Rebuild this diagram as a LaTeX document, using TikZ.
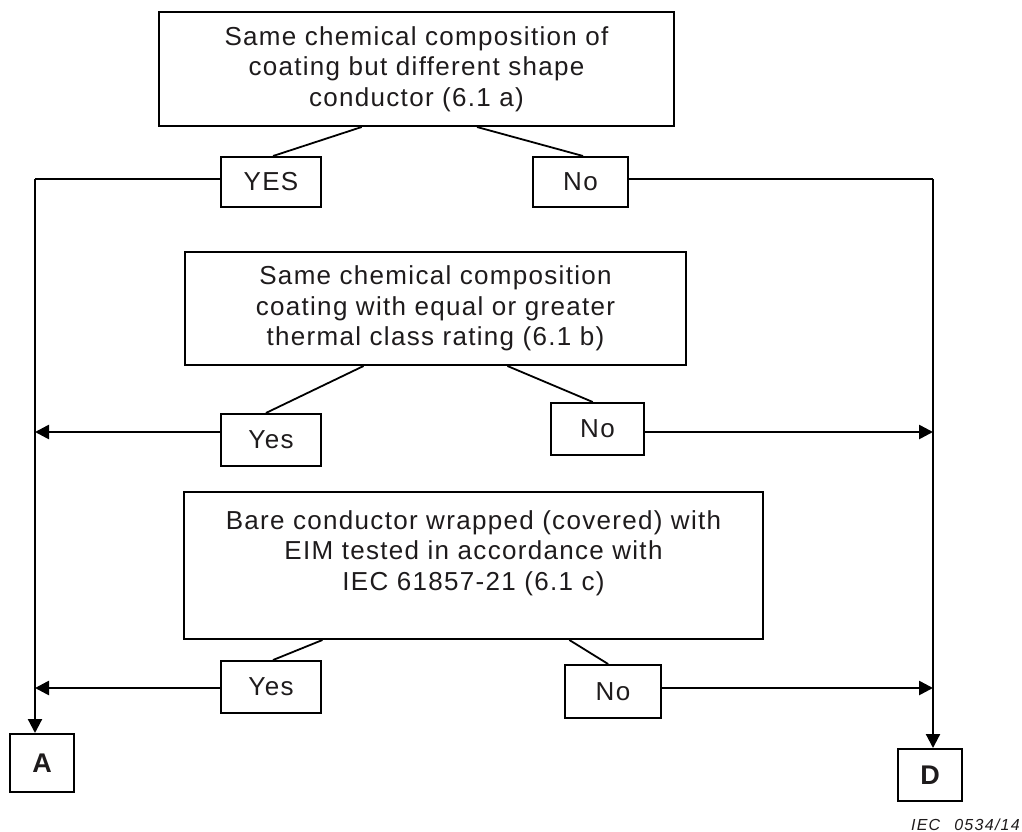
\documentclass[tikz,border=0pt]{standalone}
\usepackage{fontspec}
\setmainfont{Liberation Sans}[LetterSpace=5]
\newfontfamily\tagfont{Liberation Sans}[LetterSpace=8]
\usetikzlibrary{arrows.meta,calc}
\definecolor{ink}{RGB}{30,27,28}

\begin{document}
\begin{tikzpicture}[x=1pt,y=-1pt,
  every node/.style={font=\fontsize{26}{30.5}\selectfont, text=ink},
  bigbox/.style={draw, line width=2pt, inner sep=0pt, align=center},
  answer/.style={draw, line width=2pt, inner sep=0pt},
  endbox/.style={draw, line width=2pt, inner sep=0pt,
                 font=\fontsize{27}{30}\selectfont\bfseries},
  link/.style={line width=1.8pt},
  trunk/.style={line width=2.2pt},
  flow/.style={line width=2.6pt, -{Triangle[length=14pt,width=14pt]}},
  down/.style={line width=2.2pt, -{Triangle[length=14pt,width=14pt]}}
]
\useasboundingbox (0,0) rectangle (1022,832);

% questions
\node[bigbox, minimum width=515pt, minimum height=114pt] (q1) at (416.5,69)
  {Same chemical composition of\\coating but different shape\\conductor (6.1 a)};
\node[bigbox, minimum width=501pt, minimum height=113pt] (q2) at (435.5,308.5)
  {Same chemical composition\\coating with equal or greater\\thermal class rating (6.1 b)};
\node[bigbox, minimum width=579pt, minimum height=147pt] (q3) at (473.5,565.5) {};
\node[anchor=north, align=center, inner sep=0pt] (q3text) at ($(q3.north)+(0,19)$)
  {Bare conductor wrapped (covered) with\\EIM tested in accordance with\\IEC 61857-21 (6.1 c)};

% answers
\node[answer, minimum width=100pt, minimum height=50pt] (y1) at (271,182) {YES};
\node[answer, minimum width=95pt,  minimum height=50pt] (n1) at (580.5,182) {No};
\node[answer, minimum width=100pt, minimum height=52pt] (y2) at (271,440) {Yes};
\node[answer, minimum width=93pt,  minimum height=52pt] (n2) at (597.5,429) {No};
\node[answer, minimum width=100pt, minimum height=52pt] (y3) at (271,687) {Yes};
\node[answer, minimum width=96pt,  minimum height=53pt] (n3) at (613,691.5) {No};

% outcomes
\node[endbox, minimum width=64pt, minimum height=58pt] (A) at (42,763) {A};
\node[endbox, minimum width=64pt, minimum height=52pt] (D) at (930,775) {D};

\node[anchor=base east, inner sep=0pt, font={\fontsize{16}{18}\tagfont\itshape}]
  (fig) at (1020,830) {IEC\hspace{14pt}0534/14};

% collecting lines
\coordinate (L1) at (35,179);
\coordinate (R1) at (933,179);
\coordinate (L2) at (35,432);
\coordinate (R2) at (933,432);
\coordinate (L3) at (35,688);
\coordinate (R3) at (933,688);

% question-to-answer links
\draw[link] ($(q1.south west)!0.394!(q1.south east)$) -- ($(y1.north west)!0.52!(y1.north east)$);
\draw[link] ($(q1.south west)!0.617!(q1.south east)$) -- ($(n1.north west)!0.526!(n1.north east)$);
\draw[link] ($(q2.south west)!0.357!(q2.south east)$) -- ($(y2.north west)!0.45!(y2.north east)$);
\draw[link] ($(q2.south west)!0.643!(q2.south east)$) -- ($(n2.north west)!0.45!(n2.north east)$);
\draw[link] ($(q3.south west)!0.24!(q3.south east)$) -- ($(y3.north west)!0.52!(y3.north east)$);
\draw[link] ($(q3.south west)!0.665!(q3.south east)$) -- ($(n3.north west)!0.45!(n3.north east)$);

% trunks to the outcomes
\draw[trunk] (y1.west |- L1) -- (L1);
\draw[down] (L1) -- (L1 |- A.north);
\draw[trunk] (n1.east |- R1) -- (R1);
\draw[down] (R1) -- (R1 |- D.north);

% branches into the trunks
\draw[flow] (y2.west |- L2) -- (L2);
\draw[flow] (n2.east |- R2) -- (R2);
\draw[flow] (y3.west |- L3) -- (L3);
\draw[flow] (n3.east |- R3) -- (R3);
\end{tikzpicture}
\end{document}
